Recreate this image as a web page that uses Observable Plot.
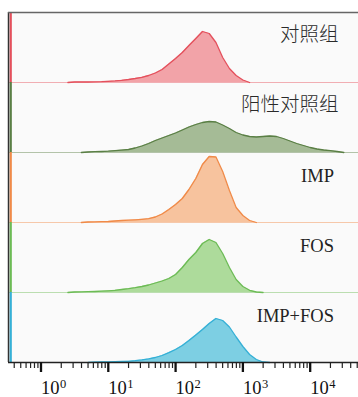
<!DOCTYPE html>
<html><head><meta charset="utf-8">
<script src="https://cdn.jsdelivr.net/npm/d3@7"></script>
<script src="https://cdn.jsdelivr.net/npm/@observablehq/plot@0.6"></script>
<style>html,body{margin:0;padding:0;background:#fff;overflow:hidden}
g[aria-label="cjk-label"] text{letter-spacing:2.6px}</style>
</head><body><div id="chart"></div>
<script>
// Panels (top to bottom)
const panels = ["对照组", "阳性对照组", "IMP", "FOS", "IMP+FOS"];
const fillColors = ["#f2a3a8", "#a5bb96", "#f7c39e", "#addb9b", "#7dcfe3"];
const strokeColors = ["#e4505c", "#5a7f45", "#f08a48", "#6cbb55", "#35b0d6"];

// Fluorescence channels (bin centres)
const fluor = [2, 2.51, 3.16, 3.98, 5.01, 6.31, 7.94, 10, 12.6, 15.8, 20, 25.1, 31.6, 39.8, 50.1, 63.1, 79.4,
  100, 126, 158, 200, 251, 316, 398, 501, 631, 794, 1000, 1259, 1585, 1995, 2512, 3162, 3981, 5012, 6310, 7943,
  10000, 12589, 15849, 19953, 25119, 31623];

// Event counts per channel (relative)
const control = [0, 0, 0.5, 0.5, 0.5, 0.6, 0.8, 1.2, 1.6, 2.2, 3, 4, 5.2, 7, 9.5, 13, 18.5, 24, 30, 37, 44, 51, 49, 40, 25, 14, 7, 2.5, 0,
  0, 0, 0, 0, 0, 0, 0, 0, 0, 0, 0, 0, 0, 0];
const positive = [0, 0, 0, 0, 0.5, 0.8, 1, 1.3, 1.8, 2.4, 3, 4.5, 6.5, 9, 12, 14.5, 17, 19.5, 22.5, 25.5, 28, 30, 31, 30.5, 27.5, 24, 20,
  17.5, 16, 15.5, 16, 16.5, 16, 14, 11.5, 9, 7, 5, 3.5, 2.5, 1.8, 1, 0];
const imp = [0, 0, 0, 0, 0.5, 0.6, 0.8, 1, 1.5, 2, 2.3, 2.7, 3.2, 3.8, 5.5, 8.5, 13, 18, 24, 33, 44, 58, 66, 65.5, 51, 32, 15, 7, 2, 0,
  0, 0, 0, 0, 0, 0, 0, 0, 0, 0, 0, 0, 0];
const fos = [0, 0, 0.5, 0.6, 0.8, 1, 1.3, 1.7, 2.2, 3, 3.8, 4.8, 6, 7.5, 9.5, 11.5, 14, 18, 25, 33, 40, 49, 53, 50, 39, 25, 13, 6, 2.2, 0.5, 0,
  0, 0, 0, 0, 0, 0, 0, 0, 0, 0, 0, 0];
const impFos = [0, 0, 0, 0, 0, 0.4, 0.5, 0.6, 0.8, 1, 1.2, 1.8, 2.6, 3.6, 5, 7, 9.8, 13, 17, 22, 27.5, 33, 39, 44, 42, 35.5, 25.5, 16, 8, 3, 0.5, 0,
  0, 0, 0, 0, 0, 0, 0, 0, 0, 0, 0];
const series = [control, positive, imp, fos, impFos];

// Pile-up in the first channel (off scale)
const floorChannel = 0.355;
const floorCount = [70, 70, 70, 70, 70];

// Axis ticks
const majorTicks = [1, 10, 100, 1000, 10000];
const majorExp = ["0", "1", "2", "3", "4"];
const minorTicks = [0.4, 0.5, 0.6, 0.7, 0.8, 0.9,
  2, 3, 4, 5, 6, 7, 8, 9,
  20, 30, 40, 50, 60, 70, 80, 90,
  200, 300, 400, 500, 600, 700, 800, 900,
  2000, 3000, 4000, 5000, 6000, 7000, 8000, 9000,
  20000, 30000, 40000, 50000];

const xDomain = [0.3289, 52240];

const marks = [Plot.frame({fill: "#fafafa", stroke: null})];
panels.forEach((p, i) => {
  const rows = fluor.map((f, j) => ({panel: p, fluor: f, count: series[i][j]}));
  const lineRows = rows.filter((r, j) =>
    r.count > 0 || (j > 0 && rows[j - 1].count > 0) || (j < rows.length - 1 && rows[j + 1].count > 0));
  marks.push(
    Plot.ruleY([{panel: p, v: 0}], {y: "v", fy: "panel", stroke: strokeColors[i], strokeOpacity: 0.45, strokeWidth: 1.2}),
    Plot.areaY(rows, {x: "fluor", y: "count", fy: "panel", fill: fillColors[i]}),
    Plot.line(lineRows, {x: "fluor", y: "count", fy: "panel", stroke: strokeColors[i], strokeWidth: 1.3}),
    Plot.ruleX([{panel: p, x: floorChannel, c: floorCount[i]}], {x: "x", y1: 0, y2: "c", fy: "panel", stroke: strokeColors[i], strokeWidth: 2.2})
  );
});

// frame lines
marks.push(
  Plot.ruleX(panels.map(p => ({panel: p, v: xDomain[0]})), {x: "v", fy: "panel", stroke: "#333", strokeWidth: 1.5}),
  Plot.ruleY([{panel: panels[0], v: 70}], {y: "v", fy: "panel", stroke: "#666", strokeWidth: 1.6}),
  Plot.ruleY([{panel: panels[4], v: 0}], {y: "v", fy: "panel", stroke: "#222", strokeWidth: 1.4}),
  Plot.axisX({ticks: minorTicks, tickSize: 6, tickFormat: () => "", stroke: "#222", strokeWidth: 1.2, label: null}),
  Plot.axisX({ticks: majorTicks, tickSize: 10, tickFormat: () => "", stroke: "#111", strokeWidth: 2.3, label: null}),
  Plot.text(majorTicks, {x: d => d, fy: () => panels[4], text: () => "10", frameAnchor: "bottom",
    textAnchor: "start", lineAnchor: "top", dy: 18.3, dx: 0, fontSize: 18.5, fontFamily: "'Liberation Serif', serif", fill: "#111"}),
  Plot.text(majorTicks, {x: d => d, fy: () => panels[4], text: (d, i) => majorExp[i], frameAnchor: "bottom",
    textAnchor: "start", lineAnchor: "top", dy: 16.5, dx: 19, fontSize: 12.5, fontFamily: "'Liberation Serif', serif", fill: "#111"}),
  Plot.text(panels.slice(0, 2), {fy: d => d, text: d => d, frameAnchor: "top-right", textAnchor: "end",
    lineAnchor: "bottom", dy: 28.8, dx: -20, fontSize: 19.5, fontWeight: 300, ariaLabel: "cjk-label",
    fontFamily: "'Noto Sans CJK SC', sans-serif", fill: "#2a2a2a"}),
  Plot.text(panels.slice(2), {fy: d => d, text: d => d, frameAnchor: "top-right", textAnchor: "end",
    lineAnchor: "bottom", dy: 29, dx: -24.5, fontSize: 18.5, fontFamily: "'Liberation Serif', serif", fill: "#222"})
);

const chart = Plot.plot({
  width: 358,
  height: 397,
  marginTop: 10.5,
  marginBottom: 33.5,
  marginLeft: 8,
  marginRight: 0,
  style: {background: "#fff"},
  x: {type: "log", domain: xDomain, label: null},
  y: {domain: [0, 70], axis: null},
  fy: {domain: panels, axis: null, padding: 0},
  marks
});
document.getElementById("chart").appendChild(chart);
</script>
</body></html>
